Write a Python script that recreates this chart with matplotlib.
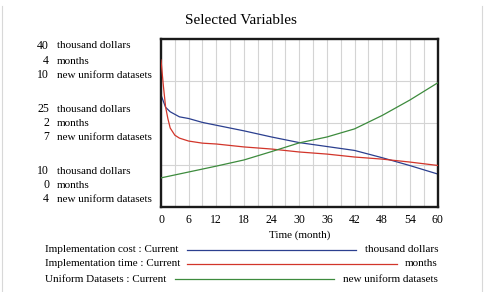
import matplotlib.pyplot as plt
from matplotlib.lines import Line2D

# data
t_cost = [0, 1, 2, 4, 6, 9, 12, 18, 24, 30, 36, 42, 48, 54, 60]
cost = [30.0, 27.8, 27.0, 26.1, 25.8, 25.1, 24.6, 23.6, 22.5, 21.5, 20.8, 20.1, 18.8, 17.4, 15.9]

t_time = [0, 0.25, 0.5, 1, 1.5, 2, 3, 4, 6, 9, 12, 18, 24, 30, 36, 42, 48, 54, 60]
impl_time = [3.50, 3.20, 2.90, 2.38, 2.10, 1.88, 1.71, 1.64, 1.57, 1.52, 1.50, 1.43, 1.38,
             1.31, 1.26, 1.19, 1.14, 1.07, 0.99]

t_data = [0, 6, 12, 18, 24, 30, 36, 42, 48, 54, 60]
datasets = [5.04, 5.25, 5.46, 5.68, 5.98, 6.29, 6.50, 6.79, 7.27, 7.82, 8.43]

units = ["thousand dollars", "months", "new uniform datasets"]
y_top = [40, 4, 10]
y_mid = [25, 2, 7]
y_bot = [10, 0, 4]
legend_names = ["Implementation cost : Current", "Implementation time : Current",
                "Uniform Datasets : Current"]
colors = ["#2b3f8f", "#d2352a", "#3d8b3d"]

plt.rcParams['font.family'] = ['Liberation Serif', 'DejaVu Serif']
W, H = 486, 292
fig = plt.figure(figsize=(W / 100, H / 100), dpi=100)

left, right, top, bottom = 161, 437.5, 39, 207
ax = fig.add_axes([left / W, 1 - bottom / H, (right - left) / W, (bottom - top) / H])
ax2 = ax.twinx()
ax3 = ax.twinx()

ax.set_xlim(0, 60)
ax.set_ylim(y_bot[0], y_top[0])
ax2.set_ylim(y_bot[1], y_top[1])
ax3.set_ylim(y_bot[2], y_top[2])

ax.set_xticks(range(0, 61, 6))
ax.set_xticks(range(0, 61, 3), minor=True)
ax.set_yticks([10, 17.5, 25, 32.5, 40])
ax.tick_params(axis='both', which='both', length=0, labelsize=8.5)
ax.tick_params(axis='x', pad=5)
ax.set_yticklabels([])
ax.grid(True, which='both', color='#d4d4d4', linewidth=0.8)
ax.set_axisbelow(True)
for a in (ax2, ax3):
    a.set_yticks([])
    for s in a.spines.values():
        s.set_visible(False)
for s in ax.spines.values():
    s.set_linewidth(1.7)
    s.set_color('#1a1a1a')

ax.plot(t_cost, cost, color=colors[0], lw=0.9)
ax2.plot(t_time, impl_time, color=colors[1], lw=0.9)
ax3.plot(t_data, datasets, color=colors[2], lw=0.9)

ax.set_xlabel("Time (month)", fontsize=8, labelpad=3)
fig.text(0.496, 1 - 20 / H, "Selected Variables", ha='center', va='center', fontsize=11)

# left axis labels
groups = [(y_top, [46, 61, 75]), (y_mid, [109, 123, 137]), (y_bot, [171, 185, 199])]
for vals, ys in groups:
    for v, u, y in zip(vals, units, ys):
        fig.text(49 / W, 1 - y / H, str(v), ha='right', va='center', fontsize=8.5)
        fig.text(57 / W, 1 - y / H, u, ha='left', va='center', fontsize=8)

# legend rows
rows_y = [250, 264, 279]
line_x = [(187, 356), (187, 397), (175, 334)]
for name, u, c, y, (x0, x1) in zip(legend_names, units, colors, rows_y, line_x):
    fig.text(45 / W, 1 - y / H, name, ha='left', va='center', fontsize=8)
    fig.text(438 / W, 1 - y / H, u, ha='right', va='center', fontsize=8)
    fig.add_artist(Line2D([x0 / W, x1 / W], [1 - y / H, 1 - y / H], color=c, lw=0.9))

# faint frame
fig.add_artist(Line2D([2 / W, 2 / W], [0, 1 - 6 / H], color='#d8d8d8', lw=0.8))
fig.add_artist(Line2D([482 / W, 482 / W], [0, 1 - 6 / H], color='#d8d8d8', lw=0.8))

fig.savefig("out.png", dpi=100)
